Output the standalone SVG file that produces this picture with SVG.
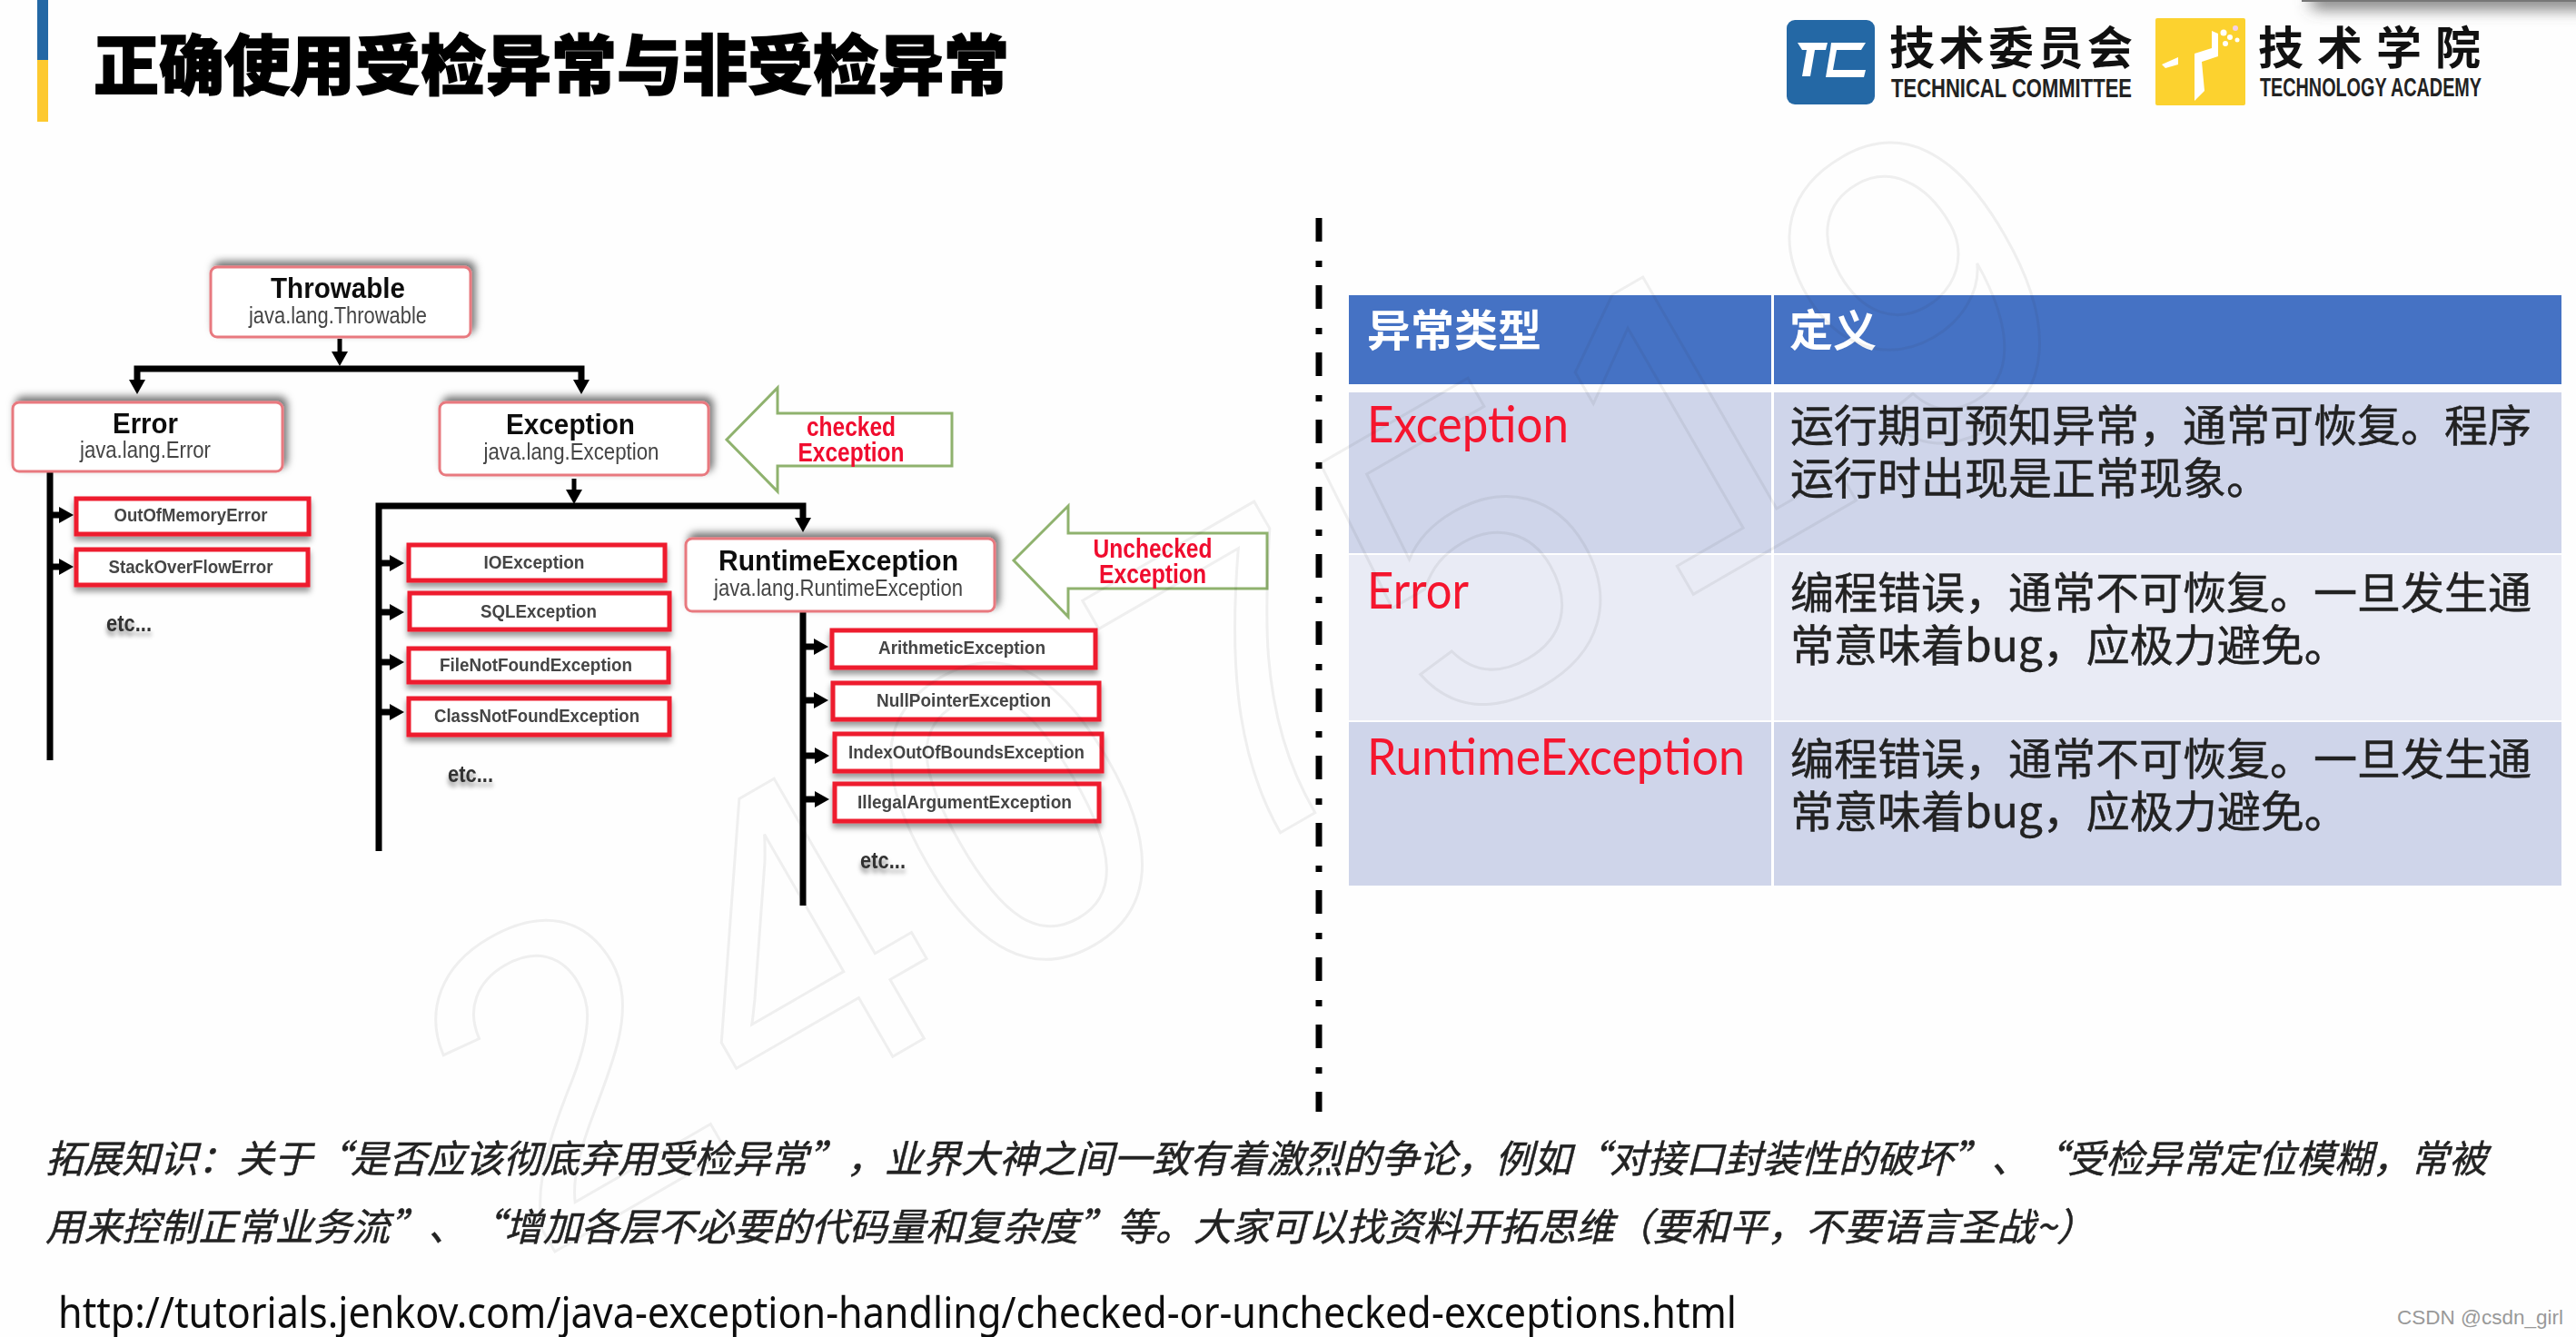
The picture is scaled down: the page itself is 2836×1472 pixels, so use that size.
<svg xmlns="http://www.w3.org/2000/svg" width="2836" height="1472" viewBox="0 0 2836 1472">
<style>
text{font-family:"Liberation Sans",Arial,sans-serif}
.zh{font-family:"Noto Sans CJK SC","Noto Sans",sans-serif}
.big{fill:#fff;stroke:#e8797f;stroke-width:3}
.t1{font-weight:700;fill:#111;text-anchor:middle;font-size:32px}
.t2{fill:#444;text-anchor:middle;font-size:25px}
.small{fill:#fff;stroke:#ee1c2e;stroke-width:5}
.t3{font-weight:700;fill:#444;text-anchor:middle;font-size:21px}
.etc{font-weight:700;fill:#333;font-size:25px}
.green{fill:#fff;stroke:#8fb26e;stroke-width:3}
.red{font-weight:700;fill:#f0072d;text-anchor:middle;font-size:29px}
.conn{fill:none;stroke:#000;stroke-width:7}
.thin{fill:none;stroke:#000;stroke-width:5}
.hd{fill:#fff;font-size:48px;font-weight:700}
.lab{font-family:Lato,"Open Sans",sans-serif;fill:#f5122f;font-size:56px}
.cell{fill:#222;font-size:48px;stroke:#222;stroke-width:.5}
.note{fill:#222;font-size:42px;font-style:italic;stroke:#222;stroke-width:.5}
.en{font-weight:700;fill:#222;font-size:29px}
.cn{fill:#111;font-size:50px;font-weight:700}
</style>
<defs>
<filter id="blur" x="-2%" y="-2%" width="104%" height="104%"><feGaussianBlur stdDeviation="0.7"/></filter>
<filter id="sb" x="-15%" y="-30%" width="130%" height="160%"><feDropShadow dx="4" dy="-5" stdDeviation="4" flood-color="#000" flood-opacity=".55"/></filter>
<filter id="ss" x="-10%" y="-30%" width="120%" height="170%"><feDropShadow dx="0" dy="5" stdDeviation="3" flood-color="#000" flood-opacity=".4"/></filter>
<filter id="st" x="-20%" y="-40%" width="140%" height="190%"><feDropShadow dx="0" dy="5" stdDeviation="2.5" flood-color="#000" flood-opacity=".45"/></filter>
<filter id="corner" x="-10%" y="-200%" width="120%" height="600%"><feGaussianBlur stdDeviation="9"/></filter>
<marker id="h" markerUnits="userSpaceOnUse" markerWidth="18" markerHeight="20" refX="3" refY="9" orient="auto"><path d="M0 0L16 9L0 18Z" fill="#000"/></marker>
</defs>
<rect width="2836" height="1472" fill="#fefefe"/>

<g id="corner-shadow"><rect x="2545" y="-6" width="320" height="14" fill="#555" filter="url(#corner)"/><rect x="2534" y="0" width="302" height="2" fill="#777"/></g>

<g id="title">
<rect x="41" y="0" width="12" height="66" fill="#2468a5"/>
<rect x="41" y="66" width="12" height="68" fill="#fdc92f"/>
<text class="zh" x="103" y="98" font-size="72" font-weight="900" fill="#000" stroke="#000" stroke-width="1.5">正确使用受检异常与非受检异常</text>
</g>

<g id="logo-tc">
<rect x="1967" y="22" width="97" height="93" rx="9" fill="#2468a5"/>
<path d="M1979 47H2012L2010 55H1998L1993 84H1984L1989 55H1984ZM2016 47H2054L2049 55H2022L2018 77H2054L2052 85H2010L2015 55Z" fill="#fff"/>
<text class="zh cn" x="2080" y="71" letter-spacing="4.5">技术委员会</text>
<text class="en" x="2082" y="107" textLength="265" lengthAdjust="spacingAndGlyphs">TECHNICAL COMMITTEE</text>
</g>
<g id="logo-academy">
<rect x="2373" y="20" width="99" height="96" rx="2" fill="#fcd22f"/>
<path d="M2416 59L2435 53V34L2442 37V62L2424 68L2427 100L2416 111ZM2380 71L2398 63V71L2384 75Z" fill="#fff"/>
<g fill="#fff"><circle cx="2448" cy="36" r="3.5"/><circle cx="2455" cy="41" r="3"/><circle cx="2450" cy="48" r="3"/><circle cx="2463" cy="44" r="2.5"/></g>
<circle cx="2461" cy="31" r="3" fill="#f4d0e8"/>
<text class="zh cn" x="2486" y="71" letter-spacing="15">技术学院</text>
<text class="en" x="2488" y="106" font-size="27" textLength="244" lengthAdjust="spacingAndGlyphs">TECHNOLOGY ACADEMY</text>
</g>

<g filter="url(#blur)">
<g id="connectors">
<path class="thin" d="M374 373V390" marker-end="url(#h)"/>
<path class="conn" d="M374 406H151V421" marker-end="url(#h)"/>
<path class="conn" d="M374 406H640V421" marker-end="url(#h)"/>
<path class="conn" d="M55 519V837"/>
<path class="thin" d="M632 527V542" marker-end="url(#h)"/>
<path class="conn" d="M417 937V557H632"/>
<path class="conn" d="M632 557H884V573" marker-end="url(#h)"/>
<path class="conn" d="M884 673V997"/>
<path class="conn" d="M55 567H68" marker-end="url(#h)"/>
<path class="conn" d="M55 624H68" marker-end="url(#h)"/>
<path class="conn" d="M417 620H432" marker-end="url(#h)"/>
<path class="conn" d="M417 674H432" marker-end="url(#h)"/>
<path class="conn" d="M417 729H432" marker-end="url(#h)"/>
<path class="conn" d="M417 784H432" marker-end="url(#h)"/>
<path class="conn" d="M884 712H899" marker-end="url(#h)"/>
<path class="conn" d="M884 771H899" marker-end="url(#h)"/>
<path class="conn" d="M884 832H900" marker-end="url(#h)"/>
<path class="conn" d="M884 880H900" marker-end="url(#h)"/>
</g>

<g id="throwable"><rect class="big" x="232" y="294" width="286" height="77" rx="7" filter="url(#sb)"/><text class="t1" x="372" y="328" textLength="148" lengthAdjust="spacingAndGlyphs">Throwable</text><text class="t2" x="372" y="356" textLength="196" lengthAdjust="spacingAndGlyphs">java.lang.Throwable</text></g>
<g id="error"><rect class="big" x="14" y="443" width="297" height="76" rx="7" filter="url(#sb)"/><text class="t1" x="160" y="477" textLength="72" lengthAdjust="spacingAndGlyphs">Error</text><text class="t2" x="160" y="504" textLength="144" lengthAdjust="spacingAndGlyphs">java.lang.Error</text></g>
<g id="exception"><rect class="big" x="484" y="443" width="296" height="80" rx="7" filter="url(#sb)"/><text class="t1" x="628" y="478" textLength="142" lengthAdjust="spacingAndGlyphs">Exception</text><text class="t2" x="629" y="506" textLength="193" lengthAdjust="spacingAndGlyphs">java.lang.Exception</text></g>
<g id="runtimeexception"><rect class="big" x="755" y="593" width="340" height="80" rx="7" filter="url(#sb)"/><text class="t1" x="923" y="628" textLength="264" lengthAdjust="spacingAndGlyphs">RuntimeException</text><text class="t2" x="923" y="656" textLength="274" lengthAdjust="spacingAndGlyphs">java.lang.RuntimeException</text></g>

<g id="outofmemoryerror"><rect class="small" x="84" y="549" width="256" height="39" filter="url(#ss)"/><text class="t3" x="210" y="574" textLength="169" lengthAdjust="spacingAndGlyphs">OutOfMemoryError</text></g>
<g id="stackoverflowerror"><rect class="small" x="84" y="605" width="255" height="39" filter="url(#ss)"/><text class="t3" x="210" y="631" textLength="181" lengthAdjust="spacingAndGlyphs">StackOverFlowError</text></g>
<g id="etc-error"><text class="etc" x="117" y="695" filter="url(#st)" textLength="50" lengthAdjust="spacingAndGlyphs">etc...</text></g>

<g id="ioexception"><rect class="small" x="450" y="600" width="282" height="39" filter="url(#ss)"/><text class="t3" x="588" y="626" textLength="111" lengthAdjust="spacingAndGlyphs">IOException</text></g>
<g id="sqlexception"><rect class="small" x="451" y="653" width="286" height="40" filter="url(#ss)"/><text class="t3" x="593" y="680" textLength="128" lengthAdjust="spacingAndGlyphs">SQLException</text></g>
<g id="filenotfoundexception"><rect class="small" x="450" y="714" width="286" height="37" filter="url(#ss)"/><text class="t3" x="590" y="739" textLength="212" lengthAdjust="spacingAndGlyphs">FileNotFoundException</text></g>
<g id="classnotfoundexception"><rect class="small" x="450" y="769" width="287" height="40" filter="url(#ss)"/><text class="t3" x="591" y="795" textLength="226" lengthAdjust="spacingAndGlyphs">ClassNotFoundException</text></g>
<g id="etc-exception"><text class="etc" x="493" y="861" filter="url(#st)" textLength="50" lengthAdjust="spacingAndGlyphs">etc...</text></g>

<g id="arithmeticexception"><rect class="small" x="916" y="694" width="290" height="41" filter="url(#ss)"/><text class="t3" x="1059" y="720" textLength="184" lengthAdjust="spacingAndGlyphs">ArithmeticException</text></g>
<g id="nullpointerexception"><rect class="small" x="917" y="752" width="293" height="40" filter="url(#ss)"/><text class="t3" x="1061" y="778" textLength="192" lengthAdjust="spacingAndGlyphs">NullPointerException</text></g>
<g id="indexoutofboundsexception"><rect class="small" x="919" y="808" width="294" height="41" filter="url(#ss)"/><text class="t3" x="1064" y="835" textLength="260" lengthAdjust="spacingAndGlyphs">IndexOutOfBoundsException</text></g>
<g id="illegalargumentexception"><rect class="small" x="919" y="863" width="291" height="41" filter="url(#ss)"/><text class="t3" x="1062" y="890" textLength="236" lengthAdjust="spacingAndGlyphs">IllegalArgumentException</text></g>
<g id="etc-runtime"><text class="etc" x="947" y="956" filter="url(#st)" textLength="50" lengthAdjust="spacingAndGlyphs">etc...</text></g>

<g id="checked-arrow"><polygon class="green" points="800,484 856,427 856,455 1048,455 1048,513 856,513 856,541"/><text class="red" x="937" y="480" textLength="98" lengthAdjust="spacingAndGlyphs">checked</text><text class="red" x="937" y="508" textLength="117" lengthAdjust="spacingAndGlyphs">Exception</text></g>
<g id="unchecked-arrow"><polygon class="green" points="1116,617 1176,557 1176,587 1395,587 1395,648 1176,648 1176,679"/><text class="red" x="1269" y="614" textLength="131" lengthAdjust="spacingAndGlyphs">Unchecked</text><text class="red" x="1269" y="642" textLength="118" lengthAdjust="spacingAndGlyphs">Exception</text></g>
</g>

<path id="divider" d="M1452 240V1224" fill="none" stroke="#000" stroke-width="7" stroke-dasharray="26 21 7 20"/>

<g id="table" filter="url(#blur)">
<rect x="1485" y="325" width="1335" height="98" fill="#4472c4"/>
<rect x="1485" y="432" width="1335" height="177" fill="#cfd5ea"/>
<rect x="1485" y="611" width="1335" height="182" fill="#e9ebf5"/>
<rect x="1485" y="795" width="1335" height="180" fill="#cfd5ea"/>
<rect x="1950" y="325" width="3" height="650" fill="#fff"/>
<text class="zh hd" x="1505" y="381">异常类型</text>
<text class="zh hd" x="1970" y="381">定义</text>
<text class="lab" x="1505" y="487" textLength="222" lengthAdjust="spacingAndGlyphs">Exception</text>
<text class="lab" x="1505" y="670" textLength="112" lengthAdjust="spacingAndGlyphs">Error</text>
<text class="lab" x="1505" y="853" textLength="416" lengthAdjust="spacingAndGlyphs">RuntimeException</text>
<text class="zh cell" x="1971" y="486">运行期可预知异常，通常可恢复。程序</text>
<text class="zh cell" x="1971" y="544">运行时出现是正常现象。</text>
<text class="zh cell" x="1971" y="670">编程错误，通常不可恢复。一旦发生通</text>
<text class="zh cell" x="1971" y="728">常意味着bug，应极力避免。</text>
<text class="zh cell" x="1971" y="853">编程错误，通常不可恢复。一旦发生通</text>
<text class="zh cell" x="1971" y="911">常意味着bug，应极力避免。</text>
</g>

<g id="notes" filter="url(#blur)">
<text class="zh note" x="50" y="1291">拓展知识：关于“是否应该彻底弃用受检异常”，业界大神之间一致有着激烈的争论，例如“对接口封装性的破坏”、“受检异常定位模糊，常被</text>
<text class="zh note" x="50" y="1366" textLength="2256">用来控制正常业务流”、“增加各层不必要的代码量和复杂度”等。大家可以找资料开拓思维（要和平，不要语言圣战~）</text>
<text x="64" y="1462" font-size="48" fill="#111" style="font-family:'Noto Sans',sans-serif" textLength="1848" lengthAdjust="spacingAndGlyphs">http://tutorials.jenkov.com/java-exception-handling/checked-or-unchecked-exceptions.html</text>
</g>

<g id="watermark" opacity="0.07"><text x="590" y="1390" transform="rotate(-30 590 1390)" font-size="480" letter-spacing="20" fill="none" stroke="#333" stroke-width="3">2407519</text></g>
<text id="credit" x="2639" y="1458" font-size="22" fill="#999" textLength="183" lengthAdjust="spacingAndGlyphs">CSDN @csdn_girl</text>
</svg>
